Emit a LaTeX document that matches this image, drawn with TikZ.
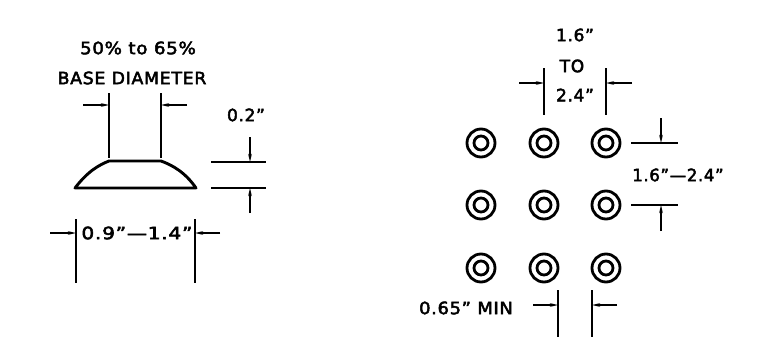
\documentclass[tikz,border=0pt]{standalone}
\usepackage{fontspec}
\setmainfont[LetterSpace=4,FakeBold=2.8]{DejaVu Sans}
\usetikzlibrary{arrows.meta}
\tikzset{
  lbl/.style={inner sep=0pt,font=\fontsize{17}{17}\selectfont},
  ext/.style={line width=2.6pt,line cap=butt},
  dim/.style={line width=1.8pt,-{Stealth[length=8pt,width=3.6pt]}},
  outline/.style={line width=2.9pt,line join=round},
  hole/.style={circle,draw,line width=2.8pt,minimum size=28pt,inner sep=0pt,path picture={\draw[line width=2.8pt] (path picture bounding box.center) circle (7pt);}}
}
\begin{document}
\begin{tikzpicture}[x=1pt,y=-1pt]
\useasboundingbox (0,0) rectangle (761,340);
% left labels
\node[lbl] (t1) at (138,48) {\scalebox{1.07}[1]{50\% to 65\%}};
\node[lbl] (t2) at (132,78) {\scalebox{1.02}[1]{BASE DIAMETER}};
\node[lbl] (t3) at (246,115) {0.2"};
\node[lbl] (t4) at (137,233) {\scalebox{1.18}[1]{0.9"—1.4"}};
% dome
\coordinate (bl) at (75,188); \coordinate (br) at (196,188);
\coordinate (tl) at (109,161); \coordinate (tr) at (161,161);
\draw[outline] (bl) .. controls (88,171) and (99,165) .. (tl) -- (tr) .. controls (172,165) and (185,172) .. (br) -- cycle;
% top width
\coordinate (a1) at (109,93); \coordinate (a2) at (109,158);
\coordinate (a3) at (161,93); \coordinate (a4) at (161,158);
\draw[ext] (a1) -- (a2); \draw[ext] (a3) -- (a4);
\coordinate (a5) at (83,105); \coordinate (a6) at (109,105);
\coordinate (a7) at (187,105); \coordinate (a8) at (161,105);
\draw[dim] (a5) -- (a6); \draw[dim] (a7) -- (a8);
% height
\coordinate (h1) at (211,162); \coordinate (h2) at (266,162);
\coordinate (h3) at (211,188); \coordinate (h4) at (266,188);
\draw[ext] (h1) -- (h2); \draw[ext] (h3) -- (h4);
\coordinate (h5) at (250,137); \coordinate (h6) at (250,162);
\coordinate (h7) at (250,213); \coordinate (h8) at (250,188);
\draw[dim] (h5) -- (h6); \draw[dim] (h7) -- (h8);
% base width
\coordinate (b1) at (76,219); \coordinate (b2) at (76,283);
\coordinate (b3) at (195,219); \coordinate (b4) at (195,283);
\draw[ext] (b1) -- (b2); \draw[ext] (b3) -- (b4);
\coordinate (b5) at (50,233); \coordinate (b6) at (76,233);
\coordinate (b7) at (220,233); \coordinate (b8) at (195,233);
\draw[dim] (b5) -- (b6); \draw[dim] (b7) -- (b8);
% holes
\foreach \n/\x in {a/481,b/544,c/606}{
  \foreach \m/\y in {1/143,2/205,3/268}{
    \node[hole] (p\n\m) at (\x,\y) {};
  }
}
% right labels
\node[lbl] (r1) at (575,35) {1.6"};
\node[lbl] (r2) at (572,66) {TO};
\node[lbl] (r3) at (575,95) {2.4"};
\node[lbl] (r4) at (678,175) {\scalebox{0.97}[1]{1.6"—2.4"}};
\node[lbl] (r5) at (466,308) {\scalebox{1.05}[1]{0.65" MIN}};
% horizontal pitch
\coordinate (c1) at (544,68); \coordinate (c2) at (544,115);
\coordinate (c3) at (606,68); \coordinate (c4) at (606,115);
\draw[ext] (c1) -- (c2); \draw[ext] (c3) -- (c4);
\coordinate (c5) at (519,83); \coordinate (c6) at (544,83);
\coordinate (c7) at (632,83); \coordinate (c8) at (606,83);
\draw[dim] (c5) -- (c6); \draw[dim] (c7) -- (c8);
% vertical pitch
\coordinate (d1) at (631,143); \coordinate (d2) at (678,143);
\coordinate (d3) at (631,205); \coordinate (d4) at (678,205);
\draw[ext] (d1) -- (d2); \draw[ext] (d3) -- (d4);
\coordinate (d5) at (661,118); \coordinate (d6) at (661,143);
\coordinate (d7) at (661,231); \coordinate (d8) at (661,205);
\draw[dim] (d5) -- (d6); \draw[dim] (d7) -- (d8);
% diameter
\coordinate (e1) at (558,290); \coordinate (e2) at (558,337);
\coordinate (e3) at (592,290); \coordinate (e4) at (592,337);
\draw[ext] (e1) -- (e2); \draw[ext] (e3) -- (e4);
\coordinate (e5) at (533,305); \coordinate (e6) at (558,305);
\coordinate (e7) at (617,305); \coordinate (e8) at (592,305);
\draw[dim] (e5) -- (e6); \draw[dim] (e7) -- (e8);
\end{tikzpicture}
\end{document}
